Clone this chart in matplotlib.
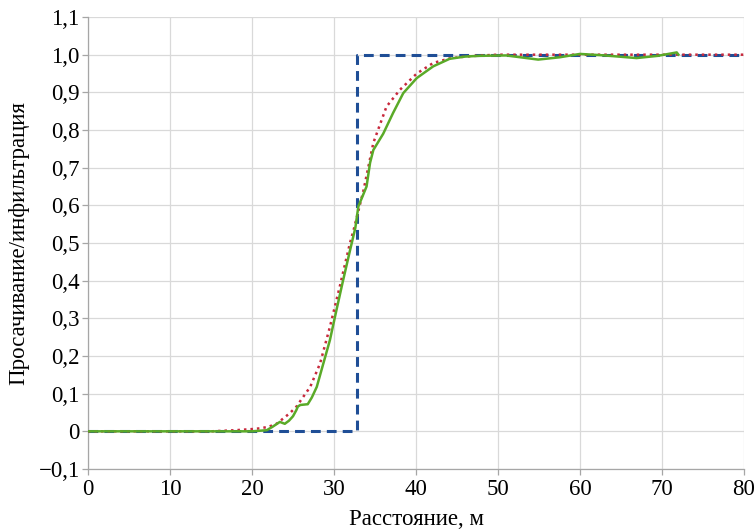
import matplotlib
matplotlib.use("Agg")
import matplotlib.pyplot as plt

plt.rcParams['font.family'] = ['Liberation Serif', 'DejaVu Serif']

step_x = [0, 32.8, 32.8, 80]
step_y = [0, 0, 1, 1]

red_x = [0, 15, 18, 20, 21, 22, 23, 23.8, 24.6, 25.4, 26.2, 27.1, 28.3, 29.5, 30.7,
         31.95, 32.4, 33.6, 34.8, 36.4, 38.05, 40.1, 42.1, 44.1, 46, 48, 50, 55, 80]
red_y = [0, 0, 0.003, 0.006, 0.008, 0.012, 0.02, 0.034, 0.048, 0.065, 0.09, 0.118, 0.18,
         0.277, 0.384, 0.5, 0.535, 0.64, 0.766, 0.862, 0.907, 0.95, 0.978, 0.99, 0.995,
         0.998, 1.0, 1.0, 1.0]

green_x = [0, 20, 21.8, 22.5, 23.4, 24.0, 24.5, 25.0, 25.4, 25.6, 25.9, 26.8, 27.3, 27.9,
           28.7, 29.5, 30.3, 31.1, 31.95, 32.6, 32.97, 33.5, 33.97, 34.4, 34.8, 36.0, 37.2,
           38.45, 40.1, 42.1, 44.1, 46, 47.8, 51, 54.9, 57.5, 60, 63, 66.9, 69.5, 71.8, 72]
green_y = [0, 0, 0.003, 0.012, 0.025, 0.02, 0.028, 0.04, 0.056, 0.066, 0.07, 0.072, 0.09,
           0.118, 0.18, 0.242, 0.322, 0.40, 0.48, 0.54, 0.597, 0.625, 0.65, 0.713, 0.747,
           0.79, 0.845, 0.898, 0.938, 0.969, 0.989, 0.995, 0.997, 0.998, 0.987, 0.993,
           1.002, 0.998, 0.991, 0.997, 1.006, 1.0]

x_ticks = [0, 10, 20, 30, 40, 50, 60, 70, 80]
y_ticks = [-0.1, 0, 0.1, 0.2, 0.3, 0.4, 0.5, 0.6, 0.7, 0.8, 0.9, 1.0, 1.1]
y_labels = ['\u22120,1', '0', '0,1', '0,2', '0,3', '0,4', '0,5', '0,6', '0,7', '0,8',
            '0,9', '1,0', '1,1']

fig = plt.figure(figsize=(7.56, 5.30), dpi=100)
ax = fig.add_axes([0.1164, 0.1151, 0.8677, 0.8528])

ax.plot(step_x, step_y, color='#1f4e96', lw=2.2, linestyle=(0, (3.2, 2.0)), zorder=3)
ax.plot(red_x, red_y, color='#c8283c', lw=1.8, linestyle=(0, (1, 1.6)), zorder=4)
ax.plot(green_x, green_y, color='#5aaa28', lw=1.8, zorder=5)

ax.set_xlim(0, 80)
ax.set_ylim(-0.1, 1.1)
ax.set_xticks(x_ticks)
ax.set_xticklabels([str(v) for v in x_ticks])
ax.set_yticks(y_ticks)
ax.set_yticklabels(y_labels)
ax.grid(True, color='#d9d9d9', lw=0.9)
ax.set_axisbelow(True)
for s in ['top', 'right']:
    ax.spines[s].set_visible(False)
for s in ['left', 'bottom']:
    ax.spines[s].set_color('#a6a6a6')
    ax.spines[s].set_linewidth(0.9)
ax.tick_params(axis='both', direction='out', length=4, width=0.9, color='#a6a6a6',
               labelsize=16.5, pad=2)
ax.tick_params(axis='x', pad=3)
ax.set_xlabel('Расстояние, м', fontsize=16.5, labelpad=7)
ax.set_ylabel('Просачивание/инфильтрация', fontsize=16.5)
ax.yaxis.set_label_coords(-0.09, 0.5)

fig.savefig('out.png', dpi=100)
